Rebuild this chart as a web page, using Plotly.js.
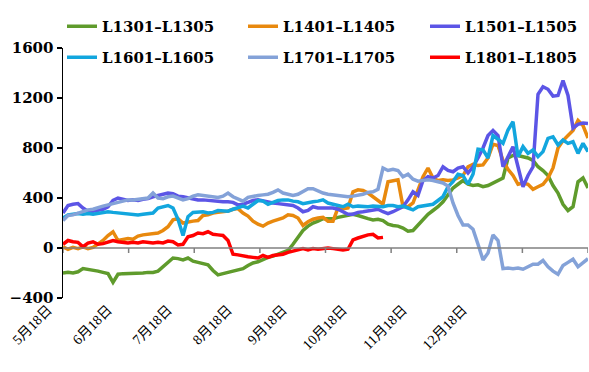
<!DOCTYPE html>
<html>
<head>
<meta charset="utf-8">
<script src="https://cdn.plot.ly/plotly-3.0.1.min.js"></script>
<style>html,body{margin:0;padding:0;background:#fff;}#chart{width:589px;height:372px;}</style>
</head>
<body>
<div id="chart"></div>
<script>
// category index (trading-day samples) with month labels
const labelIdx = [0, 12, 24, 36, 47, 59, 71, 83];
const labelText = ["5月18日", "6月18日", "7月18日", "8月18日", "9月18日", "10月18日", "11月18日", "12月18日"];

const seriesNames = ["L1301–L1305", "L1401–L1405", "L1501–L1505", "L1601–L1605", "L1701–L1705", "L1801–L1805"];

const L1301 = [-200,-195,-200,-190,-165,-170,-180,-185,-195,-205,-275,-210,-205,-205,-200,-200,-200,-195,-195,-185,
  -150,-115,-80,-85,-95,-80,-105,-115,-125,-135,-180,-215,-205,-195,-190,-180,-165,-140,-120,-110,
  -90,-75,-65,-50,-40,-20,30,90,140,175,200,215,235,235,235,245,255,265,270,260,
  245,235,225,230,220,190,180,175,160,135,140,185,220,270,300,330,370,420,480,510,
  540,510,500,505,490,500,520,540,560,720,740,740,730,720,700,650,620,580,500,440,
  350,300,330,530,560,480];
const L1401 = [10,-10,5,-5,10,-5,5,30,60,100,130,60,70,75,70,95,105,110,110,120,
  140,170,225,235,200,210,215,220,260,265,280,285,290,295,310,315,280,255,215,190,
  175,200,215,225,240,265,260,240,180,210,230,240,245,215,215,320,315,320,450,465,
  460,440,410,380,350,530,535,545,330,330,360,460,570,640,560,540,545,540,545,560,
  580,650,670,660,665,720,830,820,700,630,580,510,520,510,470,490,510,560,640,800,
  860,900,940,1020,980,880];
const L1501 = [280,340,350,355,320,295,295,300,310,330,380,400,390,380,385,380,390,395,410,420,
  430,440,435,415,410,400,395,385,385,380,380,375,370,370,365,345,350,365,380,385,
  375,365,360,355,350,345,340,320,290,300,330,320,320,320,320,310,290,270,270,285,
  290,295,305,310,290,275,290,310,330,385,450,420,540,570,560,580,650,620,610,640,
  650,600,650,720,800,900,940,900,650,730,810,650,490,580,650,1230,1290,1270,1215,1220,
  1340,1220,960,990,1000,995];
const L1601 = [240,265,270,275,270,275,270,275,280,290,285,280,280,275,270,265,270,275,280,320,
  330,340,320,230,100,250,285,290,290,280,285,300,295,295,310,325,335,320,350,380,
  375,350,365,380,385,385,375,370,355,365,370,375,385,360,350,335,330,350,330,335,
  330,330,335,330,330,340,340,330,335,320,305,330,335,340,350,380,411,490,530,590,
  580,510,590,790,785,720,900,870,837,944,1010,731,811,757,784,731,771,877,890,824,
  864,837,850,757,837,771];
const L1701 = [220,260,265,280,295,305,310,325,335,345,355,365,375,385,385,390,395,400,440,400,
  395,410,415,400,385,395,415,425,420,410,405,405,415,440,410,390,375,405,415,420,
  425,430,445,465,440,430,420,430,455,475,475,455,440,430,425,415,410,410,415,420,
  430,445,450,470,640,620,630,620,570,590,550,535,540,545,540,530,520,495,360,260,
  185,185,150,30,-95,-40,105,60,-165,-160,-165,-160,-170,-150,-130,-130,-100,-150,-185,-210,
  -140,-115,-90,-150,-120,-85];
const L1801 = [30,60,50,45,10,40,50,30,35,45,60,50,45,40,45,40,50,45,40,45,
  40,55,50,25,30,90,100,120,115,130,110,105,100,60,-50,-55,-65,-70,-75,-80,
  -60,-75,-60,-55,-50,-35,-25,-15,-5,-15,-5,-10,-5,0,-5,-10,-15,-10,65,80,
  95,105,110,80,85];

const seriesValues = [L1301, L1401, L1501, L1601, L1701, L1801];
const seriesColors = ["#5f9b2c", "#e8890e", "#5c55e6", "#12a6de", "#84a2d8", "#ff0000"];
const legendIds = ["legend", "legend2", "legend3", "legend4", "legend5", "legend6"];

const traces = seriesValues.map((ys, k) => ({
  type: "scatter",
  mode: "lines",
  name: seriesNames[k],
  x: ys.map((_, i) => i),
  y: ys,
  line: {color: seriesColors[k], width: 3.5},
  legend: legendIds[k]
}));

const legendFont = {family: "'DejaVu Serif', serif", size: 15, weight: "bold", color: "#000"};
const colX = [62 / 589, 243 / 589, 425 / 589];
const rowY = [1 - 10 / 372, 1 - 41 / 372];
function legendAt(col, row) {
  return {
    orientation: "h", xref: "container", yref: "container", xanchor: "left", yanchor: "top",
    x: colX[col], y: rowY[row],
    font: legendFont, bgcolor: "rgba(0,0,0,0)", borderwidth: 0, itemwidth: 30
  };
}

// zero line of the category axis, with tick marks hanging from it
const axisGray = "#808080";
const xMax = 105;
const tickCount = 8;
const axisShapes = [
  {type: "line", xref: "paper", yref: "y", x0: 0, x1: 1, y0: 0, y1: 0, line: {color: axisGray, width: 1.5}}
];
for (let k = 0; k <= tickCount; k++) {
  const xv = k * xMax / tickCount;
  axisShapes.push({
    type: "line", xref: "x", yref: "paper", x0: xv, x1: xv, y0: 0.2, y1: 0.2 - 5 / 250,
    line: {color: axisGray, width: 1.5}
  });
}

const layout = {
  width: 589, height: 372,
  margin: {l: 63, r: 1, t: 48, b: 74, autoexpand: false},
  showlegend: true,
  legend: legendAt(0, 0), legend2: legendAt(1, 0), legend3: legendAt(2, 0),
  legend4: legendAt(0, 1), legend5: legendAt(1, 1), legend6: legendAt(2, 1),
  shapes: axisShapes,
  xaxis: {
    range: [0, xMax],
    showgrid: false, zeroline: false,
    tickmode: "array", tickvals: labelIdx, ticktext: labelText, tickangle: -45,
    tickfont: {family: "'Liberation Serif', 'Noto Sans CJK SC', serif", size: 14, color: "#000"},
    ticklabelshift: -15
  },
  yaxis: {
    range: [-400, 1600], dtick: 400, tick0: 0,
    showline: true, linecolor: "#000", linewidth: 1.5,
    ticks: "outside", ticklen: 5, tickcolor: "#000", tickwidth: 1.5,
    showgrid: false, zeroline: false,
    tickfont: {family: "'DejaVu Serif', serif", size: 15, weight: "bold", color: "#000"}
  }
};

Plotly.newPlot("chart", traces, layout, {staticPlot: true, displayModeBar: false});
</script>
</body>
</html>
